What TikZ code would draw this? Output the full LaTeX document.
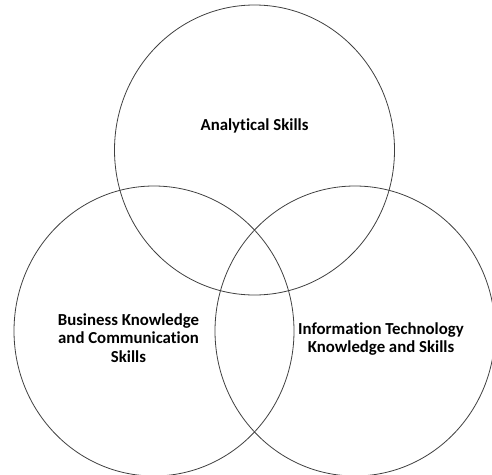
\documentclass[tikz,border=0pt]{standalone}
\usepackage{fontspec}
\setmainfont{Carlito}[Ligatures={NoCommon}]
\newcommand{\rx}{140}
\newcommand{\ry}{145}
\colorlet{coltrait}{black!75}
\tikzstyle{cercle}=[draw=coltrait, line width=0.8pt]
\tikzstyle{texte}=[font=\bfseries\fontsize{16.8}{18.5}\selectfont, align=center, text=black]

\begin{document}
\begin{tikzpicture}[x=1pt,y=-1pt]

\useasboundingbox (0,0) rectangle (492,474);

\draw[cercle] (254.5,150) ellipse ({\rx} and {\ry});
\draw[cercle] (154,331) ellipse ({\rx} and {\ry});
\draw[cercle] (355,331) ellipse ({\rx} and {\ry});

\node[texte] (analytique) at (254.5,126) {Analytical Skills};
\node[texte] (affaires) at (128.5,338) {Business Knowledge\\and Communication\\Skills};
\node[texte] (informatique) at (381,339) {Information Technology\\Knowledge and Skills};

\end{tikzpicture}
\end{document}
